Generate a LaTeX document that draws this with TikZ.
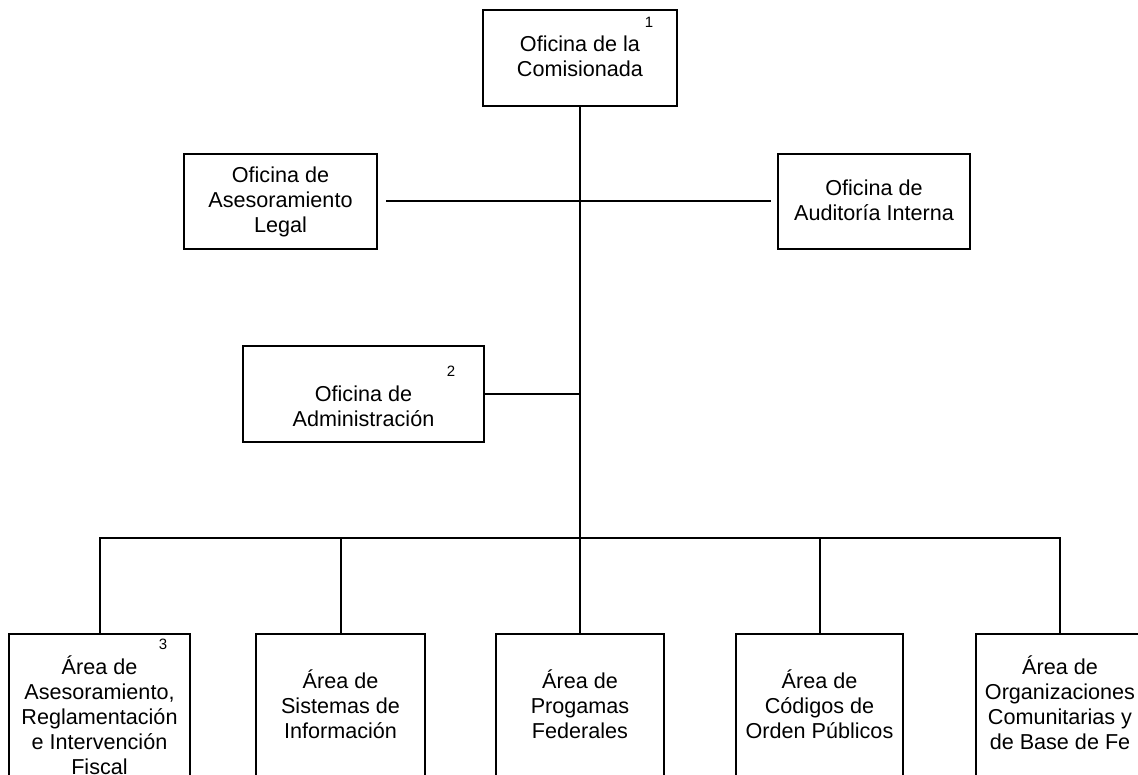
\documentclass[tikz,border=0pt]{standalone}
\usepackage{fontspec}
\setmainfont{Liberation Sans}
\begin{document}
\begin{tikzpicture}[x=1pt,y=-1pt,
  box/.style={draw=black,line width=2pt,rectangle,inner sep=0pt,minimum height=96pt},
  lbl/.style={align=center,inner sep=0pt,font=\fontsize{21.6}{25}\selectfont},
  num/.style={inner sep=0pt,font=\fontsize{15}{17}\selectfont},
  conn/.style={draw=black,line width=2pt}]
\useasboundingbox (0,0) rectangle (1138,775);
\clip (0,0) rectangle (1138,775);
% boxes
\node[box,minimum width=194pt] (top) at (580,58) {};
\node[box,minimum width=193pt,minimum height=95pt] (legal) at (280.5,201.5) {};
\node[box,minimum width=192pt,minimum height=95pt] (audit) at (874,201.5) {};
\node[box,minimum width=241pt] (admin) at (363.5,394) {};
\node[box,minimum width=181pt,minimum height=180pt] (a1) at (99.5,724) {};
\node[box,minimum width=169pt,minimum height=180pt] (a2) at (340.5,724) {};
\node[box,minimum width=168pt,minimum height=180pt] (a3) at (580,724) {};
\node[box,minimum width=167pt,minimum height=180pt] (a4) at (819.5,724) {};
\node[box,minimum width=168pt,minimum height=180pt] (a5) at (1060,724) {};
% texts
\node[lbl] (topt) at (580,59.5) {\strut Oficina de la\\\strut Comisionada};
\node[lbl] (legalt) at (280.5,203) {\strut Oficina de\\\strut Asesoramiento\\\strut Legal};
\node[lbl] (auditt) at (874,203) {\strut Oficina de\\\strut Auditoría Interna};
\node[lbl] (admint) at (363.5,409.5) {\strut Oficina de\\\strut Administración};
\node[lbl] (a1t) at (99.5,719) {\strut Área de\\\strut Asesoramiento,\\\strut Reglamentación\\\strut e Intervención\\\strut Fiscal};
\node[lbl] (a2t) at (340.5,708) {\strut Área de\\\strut Sistemas de\\\strut Información};
\node[lbl] (a3t) at (580,708) {\strut Área de\\\strut Progamas\\\strut Federales};
\node[lbl] (a4t) at (819.5,708) {\strut Área de\\\strut Códigos de\\\strut Orden Públicos};
\node[lbl] (a5t) at (1060,706.5) {\strut Área de\\\strut Organizaciones\\\strut Comunitarias y\\\strut de Base de Fe};
% numbers
\node[num] (n1) at (649,22) {1};
\node[num] (n2) at (451,371) {2};
\node[num] (n3) at (163,644) {3};
% connectors
\coordinate (bar) at (580,538);
\draw[conn] (top.south) -- (bar);
\draw[conn] ([xshift=8pt]legal.east) -- ([xshift=-6pt]audit.west);
\draw[conn] (admin.east) -- (admin.east -| top.south);
\draw[conn] (a1.north) -- (a1.north |- bar) -- (a5.north |- bar) -- (a5.north);
\draw[conn] (a2.north) -- (a2.north |- bar);
\draw[conn] (a3.north) -- (bar);
\draw[conn] (a4.north) -- (a4.north |- bar);
\end{tikzpicture}
\end{document}
